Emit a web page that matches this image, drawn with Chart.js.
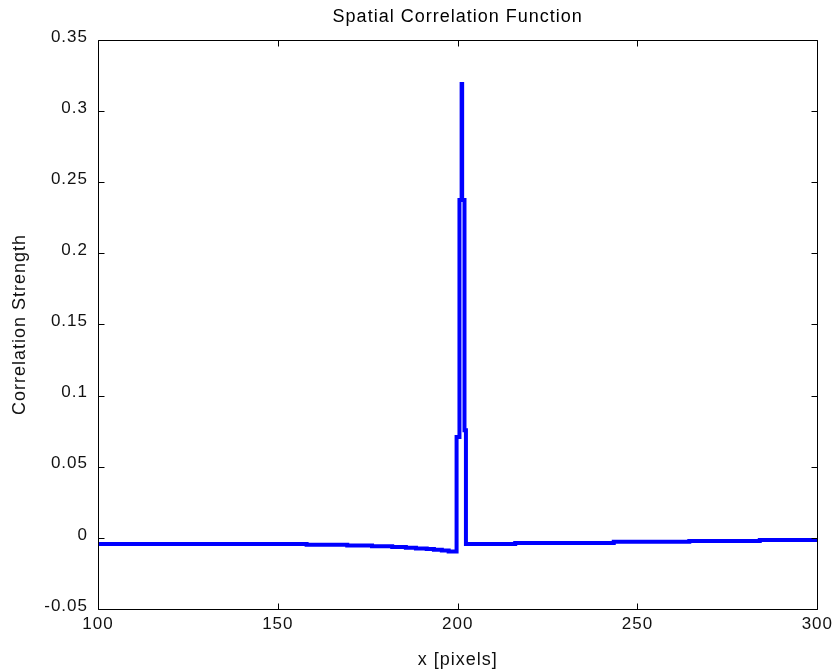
<!DOCTYPE html>
<html>
<head>
<meta charset="utf-8">
<title>Spatial Correlation Function</title>
<script src="https://cdn.jsdelivr.net/npm/chart.js@4/dist/chart.umd.min.js"></script>
<style>
  html, body { margin: 0; padding: 0; background: #fff; }
  #wrap { width: 838px; height: 671px; }
</style>
</head>
<body>
<div id="wrap"><canvas id="chartKorelasi" width="838" height="671"></canvas></div>
<script>
// data (nilai ditahan sampai titik berikutnya)
const xPixels = [100, 158, 169.3, 176.2, 181.8, 185.6, 188.4, 191.4, 193.4, 195.6, 197.5,
                 199.7, 200.5, 201.1, 201.25, 201.9, 202.3, 216, 243.4, 264.4, 284, 300];
const corrStrength = [-0.0043, -0.0048, -0.0053, -0.0059, -0.0064, -0.0069, -0.0074, -0.0079, -0.0084, -0.0089, -0.0095,
                      0.0709, 0.2375, 0.319, 0.2375, 0.0756, -0.0043, -0.0036, -0.0027, -0.0022, -0.0015, -0.0015];

const xTicks = [100, 150, 200, 250, 300];
const xTickLabels = ['100', '150', '200', '250', '300'];
const yTicks = [-0.05, 0, 0.05, 0.1, 0.15, 0.2, 0.25, 0.3, 0.35];
const yTickLabels = ['-0.05', '0', '0.05', '0.1', '0.15', '0.2', '0.25', '0.3', '0.35'];

const judul = 'Spatial Correlation Function';
const fontFam = "'Liberation Sans', Arial, Helvetica, sans-serif";

// huruf agak renggang seperti teks MATLAB
const spasiPlugin = {
    id: 'spasi',
    beforeUpdate(chart) { chart.ctx.letterSpacing = '1px'; },
    beforeDraw(chart) { chart.ctx.letterSpacing = '1px'; }
};

// kotak sumbu + tick ke dalam ala MATLAB, judul di tengah area plot
const kotakPlugin = {
    id: 'kotak',
    afterDraw(chart) {
        const ctx = chart.ctx;
        const a = chart.chartArea;
        const sx = chart.scales.x, sy = chart.scales.y;
        const L = Math.round(a.left) + 0.5, R = Math.round(a.right) + 0.5;
        const T = Math.round(a.top) + 0.5, B = Math.round(a.bottom) + 0.5;
        const len = 6;
        ctx.save();
        ctx.strokeStyle = '#000';
        ctx.lineWidth = 1;
        ctx.beginPath();
        ctx.rect(L, T, R - L, B - T);
        sx.ticks.forEach(t => {
            const p = Math.round(sx.getPixelForValue(t.value)) + 0.5;
            ctx.moveTo(p, B); ctx.lineTo(p, B - len);
            ctx.moveTo(p, T); ctx.lineTo(p, T + len);
        });
        sy.ticks.forEach(t => {
            const p = Math.round(sy.getPixelForValue(t.value)) + 0.5;
            ctx.moveTo(L, p); ctx.lineTo(L + len, p);
            ctx.moveTo(R, p); ctx.lineTo(R - len, p);
        });
        ctx.stroke();

        // judul
        ctx.letterSpacing = '1px';
        ctx.font = '18px ' + fontFam;
        ctx.fillStyle = '#000';
        ctx.textAlign = 'left';
        ctx.textBaseline = 'middle';
        const w = ctx.measureText(judul).width;
        ctx.fillText(judul, (a.left + a.right) / 2 - w / 2, 17);
        ctx.restore();
    }
};

new Chart(document.getElementById('chartKorelasi'), {
    type: 'line',
    data: {
        datasets: [{
            label: 'Correlation',
            data: xPixels.map((x, i) => ({ x: x, y: corrStrength[i] })),
            borderColor: '#0000ff',
            borderWidth: 4,
            pointRadius: 0,
            stepped: 'before',
            fill: false
        }]
    },
    options: {
        responsive: false,
        animation: false,
        events: [],
        layout: { padding: { left: 0, right: 17, top: 40, bottom: 0 } },
        plugins: {
            legend: { display: false },
            tooltip: { enabled: false },
            title: { display: false }
        },
        scales: {
            x: {
                type: 'linear',
                min: 100,
                max: 300,
                grid: { display: false, drawTicks: false },
                border: { display: false },
                afterBuildTicks: s => { s.ticks = xTicks.map(v => ({ value: v })); },
                afterFit: s => { s.height = 62; },
                ticks: {
                    color: '#111',
                    font: { family: fontFam, size: 17 },
                    padding: 5,
                    maxRotation: 0,
                    callback: (v, i) => xTickLabels[i]
                },
                title: {
                    display: true,
                    text: 'x [pixels]',
                    color: '#111',
                    font: { family: fontFam, size: 18 },
                    padding: { top: 0, bottom: 0 }
                }
            },
            y: {
                type: 'linear',
                min: -0.05,
                max: 0.35,
                grid: { display: false, drawTicks: false },
                border: { display: false },
                afterBuildTicks: s => { s.ticks = yTicks.map(v => ({ value: v })); },
                afterFit: s => { s.width = 98; },
                ticks: {
                    color: '#111',
                    font: { family: fontFam, size: 17 },
                    padding: 10,
                    labelOffset: -3,
                    callback: (v, i) => yTickLabels[i]
                },
                title: {
                    display: true,
                    text: 'Correlation Strength',
                    color: '#111',
                    font: { family: fontFam, size: 18 },
                    padding: { top: 9, bottom: 0 }
                }
            }
        }
    },
    plugins: [spasiPlugin, kotakPlugin]
});
</script>
</body>
</html>
